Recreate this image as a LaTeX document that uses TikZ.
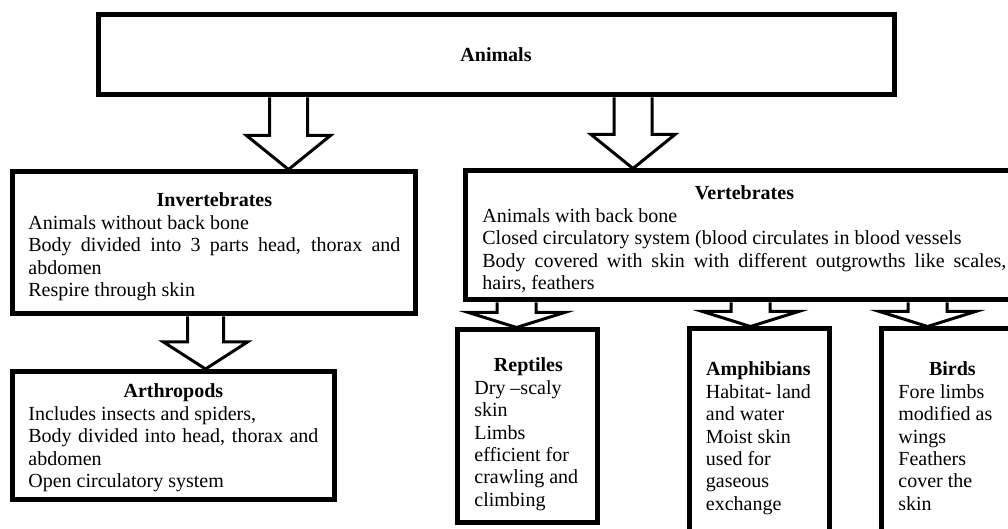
\documentclass[tikz,border=0pt]{standalone}
\usepackage{fontspec}
\setmainfont{Liberation Serif}
\usetikzlibrary{calc}

\tikzset{
	box/.style={draw=black, line width=2.5pt, inner sep=0pt, font=\fontsize{10}{11.2}\selectfont},
	txt/.style={text width=#1, align=justify, inner sep=0pt, anchor=base west,
		font=\fontsize{10}{11.2}\selectfont},
	hollow/.style n args={3}{draw=black, line width=1.5pt, line join=miter,
		to path={let \p1=(\tikztostart), \p2=(\tikztotarget) in
			(\x1-#1,\y1) -- (\x1-#1,\y2+#3) -- (\x1-#2,\y2+#3) -- (\x1,\y2)
			-- (\x1+#2,\y2+#3) -- (\x1+#1,\y2+#3) -- (\x1+#1,\y1)}},
	bigarrow/.style={hollow={9.5pt}{21pt}{17pt}},
	midarrow/.style={hollow={9pt}{21pt}{13.5pt}},
	smallarrow/.style={hollow={9.75pt}{24pt}{7.5pt}}
}

\begin{document}
\begin{tikzpicture}[x=0.5pt, y=-0.5pt]
	\useasboundingbox (0,0) rectangle (1008,529);
	\clip (0,0) rectangle (1008,529);

	% boxes
	\draw (496,55) node[box, minimum width=398pt, minimum height=40pt] (animals)
	{
		\textbf{Animals}
	};
	\draw (213.5,243) node[box, minimum width=201.5pt, minimum height=71pt] (invert) {};
	\draw (173.5,435.5) node[box, minimum width=161pt, minimum height=64pt] (arthro) {};
	\draw (743.5,235.5) node[box, minimum width=278.5pt, minimum height=64.5pt] (vert) {};
	\draw (527,426.5) node[box, minimum width=70pt, minimum height=96.5pt] (reptiles) {};
	\draw (759,437) node[box, minimum width=70pt, minimum height=108pt] (amphib) {};
	\draw (951,437) node[box, minimum width=70pt, minimum height=108pt] (birds) {};

	% texts
	\draw (28,207) node[txt=186pt] (invert-txt)
	{
		\makebox[\linewidth]{\textbf{Invertebrates}}\par
		Animals without back bone\par
		Body divided into 3 parts head, thorax and\linebreak abdomen\par
		Respire through skin
	};
	\draw (28,398) node[txt=145pt] (arthro-txt)
	{
		\makebox[\linewidth]{\textbf{Arthropods}}\par
		Includes insects and spiders,\par
		Body divided into head, thorax and\linebreak abdomen\par
		Open circulatory system
	};
	\draw (482,200) node[txt=262pt] (vert-txt)
	{
		\makebox[\linewidth]{\textbf{Vertebrates}}\par
		Animals with back bone\par
		Closed circulatory system (blood circulates in blood vessels\par
		Body covered with skin with different outgrowths like scales,\linebreak hairs, feathers
	};
	\draw (474,372) node[txt=54pt] (reptiles-txt)
	{
		\makebox[\linewidth]{\textbf{Reptiles}}\par
		Dry –scaly\par skin\par Limbs\par efficient for\par crawling and\par climbing
	};
	\draw (705.5,376) node[txt=52.5pt] (amphib-txt)
	{
		\makebox[\linewidth]{\textbf{Amphibians}}\par
		Habitat- land\par and water\par Moist skin\par used for\par gaseous\par exchange
	};
	\draw (898,376) node[txt=54pt] (birds-txt)
	{
		\makebox[\linewidth]{\textbf{Birds}}\par
		Fore limbs\par modified as\par wings\par Feathers\par cover the\par skin
	};

	% arrows
	\draw[bigarrow] ([xshift=96.5pt]animals.south west) to (invert.north);
	\draw[bigarrow] ([xshift=268.75pt]animals.south west) to (vert.north);
	\draw[midarrow] ([xshift=-4pt]invert.south) to (arthro.north);
	\draw[smallarrow] ([xshift=27pt]vert.south west) to (reptiles.north);
	\draw[smallarrow] ([xshift=144pt]vert.south west) to (amphib.north);
	\draw[smallarrow] ([xshift=232.5pt]vert.south west) to (birds.north);
\end{tikzpicture}
\end{document}
